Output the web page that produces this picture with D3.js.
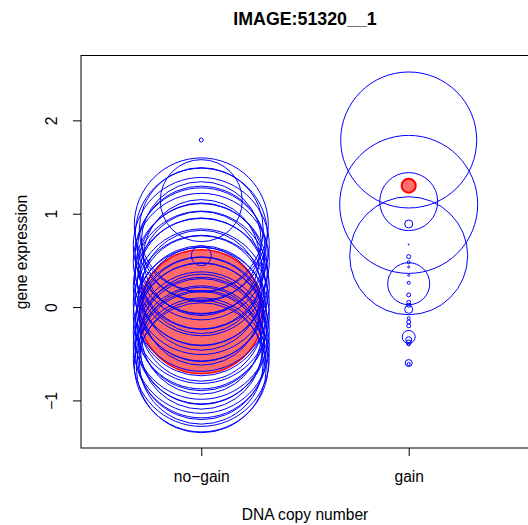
<!DOCTYPE html>
<html>
<head>
<meta charset="utf-8">
<script src="https://cdn.jsdelivr.net/npm/d3@7"></script>
<style>
  body { margin: 0; background: #fff; }
  text { font-family: "Liberation Sans", Arial, sans-serif; fill: #000; }
</style>
</head>
<body>
<svg width="528" height="525"></svg>
<script>
// groups on the x axis
const groups = ['no\u2212gain', 'gain'];
const yTicks = [-1, 0, 1, 2];

// no-gain samples: expression value and circle size (px)
const noGainExpr = [0.88, 0.83, 0.78, 0.70, 0.66, 0.61, 0.57, 0.53, 0.49, 0.44, 0.40, 0.37, 0.31, 0.27,
  0.22, 0.18, 0.13, 0.09, 0.04, 0.01, -0.04, -0.09, -0.13, -0.17, -0.21, -0.26, -0.29, -0.33,
  -0.37, -0.41, -0.44, -0.48, -0.52, -0.55, -0.59, -0.62, -0.65,
  1.79, 1.14, 0.55];
const noGainSize = [67, 62, 66, 60, 68, 64, 66, 58, 68, 63, 66, 61, 67, 64,
  68, 60, 66, 63, 68, 59, 65, 68, 62, 66, 64, 68, 60, 66,
  63, 68, 61, 66, 64, 68, 62, 67, 65,
  2, 41, 10];

// gain samples
const gainExpr = [1.79, 1.10, 0.55, 1.13, 0.25, 0.89, 0.67, 0.54, 0.48, 0.43, 0.34, 0.26, 0.13, 0.05, 0.02,
  -0.025, -0.12, -0.16, -0.20, -0.32, -0.35, -0.38, -0.40, -0.60, -0.61];
const gainSize = [68, 69, 59, 29, 21, 4, 0.5, 2, 1.5, 1, 1, 1.5, 2, 2, 2,
  4, 1.5, 2, 2, 6.5, 3, 2.5, 1.5, 3.5, 1.5];

// highlighted samples (one per group)
const hiGroup = [1, 2];
const hiExpr = [-0.05, 1.30];
const hiSize = [62, 7];

const svg = d3.select('svg');

const x = d3.scaleLinear().domain([0.42, 2.58]).range([81, 529]);
const y = d3.scaleLinear().domain([-1.51, 2.695]).range([448, 55.5]);
const r = d3.scaleLinear().domain([0, 70]).range([0, 70]);

// highlighted big one goes under the blue rings
svg.append('circle')
  .attr('cx', x(hiGroup[0]))
  .attr('cy', y(hiExpr[0]))
  .attr('r', r(hiSize[0]))
  .attr('fill', '#ff6b6b')
  .attr('stroke', '#ff0000')
  .attr('stroke-width', 1.5);

// blue rings
function addRings(vals, sizes, g) {
  svg.append('g')
    .selectAll('circle')
    .data(vals)
    .enter()
    .append('circle')
    .attr('cx', x(g))
    .attr('cy', d => y(d))
    .attr('r', (d, i) => r(sizes[i]))
    .attr('fill', 'none')
    .attr('stroke', '#0000ff')
    .attr('stroke-width', 1);
}
addRings(noGainExpr, noGainSize, 1);
addRings(gainExpr, gainSize, 2);

// small highlighted one in the gain group
svg.append('circle')
  .attr('cx', x(hiGroup[1]))
  .attr('cy', y(hiExpr[1]))
  .attr('r', r(hiSize[1]))
  .attr('fill', '#ff7070')
  .attr('stroke', '#ff0000')
  .attr('stroke-width', 2);

// plot box
svg.append('rect')
  .attr('x', 81).attr('y', 55.5)
  .attr('width', 448).attr('height', 392.5)
  .attr('fill', 'none')
  .attr('stroke', '#000')
  .attr('stroke-width', 1);

// y axis (labels parallel to the axis, like R)
const yAxis = svg.append('g')
  .attr('transform', 'translate(81,0)')
  .call(d3.axisLeft(y).tickValues(yTicks).tickSize(8)
    .tickFormat(d => d < 0 ? '\u2212' + Math.abs(d) : d));
yAxis.select('.domain').remove();
yAxis.selectAll('text')
  .attr('x', null).attr('dy', null)
  .attr('transform', 'translate(-24,0) rotate(-90)')
  .attr('text-anchor', 'middle')
  .style('font-size', '15.6px')
  .style('font-family', '"Liberation Sans", Arial, sans-serif');

// x axis
const xAxis = svg.append('g')
  .attr('transform', 'translate(0,448)')
  .call(d3.axisBottom(x).tickValues([1, 2]).tickSize(8)
    .tickFormat(d => groups[d - 1]));
xAxis.select('.domain').remove();
xAxis.selectAll('text')
  .attr('y', 34).attr('dy', null)
  .style('font-size', '15.6px')
  .style('font-family', '"Liberation Sans", Arial, sans-serif');

// titles
svg.append('text')
  .attr('x', 305).attr('y', 25)
  .attr('text-anchor', 'middle')
  .style('font-size', '17.8px')
  .style('font-weight', 'bold')
  .text('IMAGE:51320__1');

svg.append('text')
  .attr('x', 305).attr('y', 520)
  .attr('text-anchor', 'middle')
  .style('font-size', '15.6px')
  .text('DNA copy number');

svg.append('text')
  .attr('transform', 'translate(27,252) rotate(-90)')
  .attr('text-anchor', 'middle')
  .style('font-size', '15.6px')
  .text('gene expression');
</script>
</body>
</html>
